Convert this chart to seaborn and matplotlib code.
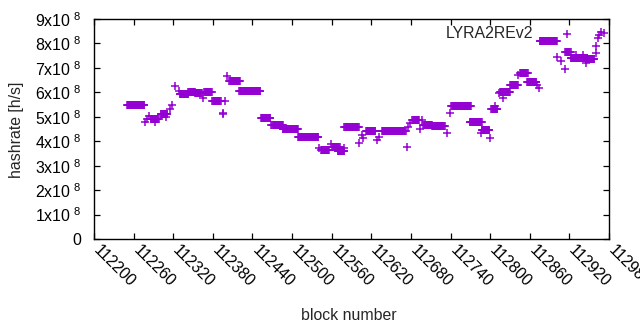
import numpy as np
import pandas as pd
import matplotlib
matplotlib.use("Agg")
import matplotlib.pyplot as plt
import seaborn as sns
from matplotlib.ticker import FuncFormatter, MultipleLocator
from matplotlib.transforms import ScaledTranslation

# Runs of constant hashrate: first block, last block, hashrate (x1e8 h/s)
run_start = [112250, 112277, 112280, 112283, 112286, 112293, 112301, 112309, 112315, 112318,
             112322, 112329, 112330, 112343, 112353, 112365, 112367, 112379, 112395, 112396,
             112398, 112401, 112405, 112420, 112453, 112468, 112470, 112486, 112509, 112541,
             112544, 112559, 112561, 112569, 112578, 112579, 112602, 112606, 112608, 112612,
             112629, 112631, 112636, 112674, 112675, 112678, 112682, 112694, 112697, 112699,
             112712, 112721, 112735, 112739, 112741, 112769, 112786, 112787, 112800, 112802,
             112807, 112813, 112815, 112819, 112830, 112842, 112845, 112856, 112871, 112874,
             112875, 112901, 112908, 112913, 112914, 112922, 112930, 112940, 112945, 112947,
             112960, 112961, 112963, 112965, 112968, 112972]
run_end = [112276, 112277, 112280, 112283, 112298, 112293, 112311, 112309, 112315, 112318,
           112322, 112329, 112343, 112353, 112363, 112365, 112378, 112392, 112395, 112396,
           112398, 112401, 112421, 112452, 112467, 112468, 112486, 112509, 112540, 112541,
           112556, 112559, 112572, 112579, 112578, 112601, 112602, 112606, 112608, 112626,
           112629, 112631, 112672, 112674, 112675, 112678, 112692, 112694, 112697, 112712,
           112727, 112731, 112735, 112739, 112771, 112787, 112786, 112799, 112800, 112811,
           112807, 112813, 112830, 112819, 112842, 112842, 112857, 112870, 112871, 112874,
           112901, 112901, 112908, 112913, 112922, 112947, 112930, 112940, 112945, 112958,
           112960, 112961, 112963, 112965, 112968, 112972]
run_value = [5.48, 4.80, 4.90, 5.03, 4.90, 4.80, 5.11, 4.98, 5.30, 5.48,
             6.26, 6.07, 5.92, 6.03, 5.96, 5.76, 6.01, 5.66, 5.14, 5.10,
             5.65, 6.67, 6.45, 6.06, 4.96, 4.66, 4.66, 4.50, 4.19, 3.71,
             3.64, 3.89, 3.78, 3.61, 3.71, 4.57, 3.94, 4.26, 4.12, 4.43,
             4.05, 4.19, 4.43, 3.75, 4.60, 4.76, 4.87, 4.49, 4.87, 4.66,
             4.64, 4.62, 4.32, 5.14, 5.44, 4.80, 4.35, 4.46, 4.12, 5.31,
             5.44, 5.96, 6.03, 5.76, 6.30, 6.71, 6.80, 6.44, 6.30, 6.17,
             8.11, 7.46, 7.30, 6.94, 7.66, 7.42, 7.54, 7.53, 7.21, 7.35,
             7.60, 7.90, 8.21, 8.35, 8.48, 8.42]

series_name = "LYRA2REv2"
x_label = "block number"
y_label = "hashrate [h/s]"

blocks, rates = [], []
for s, e, v in zip(run_start, run_end, run_value):
    for b in range(s, e + 1):
        blocks.append(b)
        rates.append(v * 1e8)
df = pd.DataFrame({"block": blocks, "hashrate": rates, "series": series_name})

sns.set_theme(style="ticks")
plt.rcParams["font.family"] = ["Liberation Sans", "DejaVu Sans"]
plt.rcParams["mathtext.fontset"] = "custom"
plt.rcParams["mathtext.rm"] = "Liberation Sans"
plt.rcParams["mathtext.it"] = "Liberation Sans"
plt.rcParams["mathtext.default"] = "regular"

FS = 11.4
fig = plt.figure(figsize=(6.4, 3.3), dpi=100)
ax = fig.add_axes([94/640, 1-239/330, 515/640, 220/330])
purple = "#9400d3"
sns.scatterplot(data=df, x="block", y="hashrate", marker="+", s=28, color=purple,
                linewidth=1.1, ax=ax, label=series_name, legend=False)

ax.set_xlim(112200, 112980)
ax.set_ylim(0, 9e8)
ax.xaxis.set_major_locator(MultipleLocator(60))
ax.yaxis.set_major_locator(MultipleLocator(1e8))

def yfmt(v, pos):
    n = int(round(v / 1e8))
    return "0" if n == 0 else f"{n}x10 $^{{8}}$"
ax.yaxis.set_major_formatter(FuncFormatter(yfmt))
ax.xaxis.set_major_formatter(FuncFormatter(lambda v, p: f"{int(round(v))}"))

for sp in ax.spines.values():
    sp.set_linewidth(1.0)
    sp.set_color("black")
ax.tick_params(direction="in", length=4.5, width=0.9, top=True, right=True,
               labelsize=FS, colors="black")
ax.tick_params(axis="y", pad=9)
ax.tick_params(axis="x", pad=6)
shift = ScaledTranslation(2/100, 0, fig.dpi_scale_trans)
for lab in ax.get_xticklabels():
    lab.set_rotation(-45)
    lab.set_ha("left")
    lab.set_va("center")
    lab.set_rotation_mode("anchor")
    lab.set_transform(lab.get_transform() + shift)

ax.set_xlabel("")
ax.set_ylabel("")
fig.text(349/640, 1-315/330, x_label, ha="center", va="center", fontsize=FS)
fig.text(17/640, 1-130/330, y_label, ha="center", va="center", rotation=90, fontsize=FS)

handles, labels = ax.get_legend_handles_labels()
leg = ax.legend(handles, labels, loc="upper right", markerfirst=False, frameon=False,
                fontsize=FS, handlelength=3.0, handletextpad=0.65, borderpad=0,
                borderaxespad=0, bbox_to_anchor=(1 - 18/515, 1 - 7/220), markerscale=1.0)

fig.savefig("out.png", dpi=100)
